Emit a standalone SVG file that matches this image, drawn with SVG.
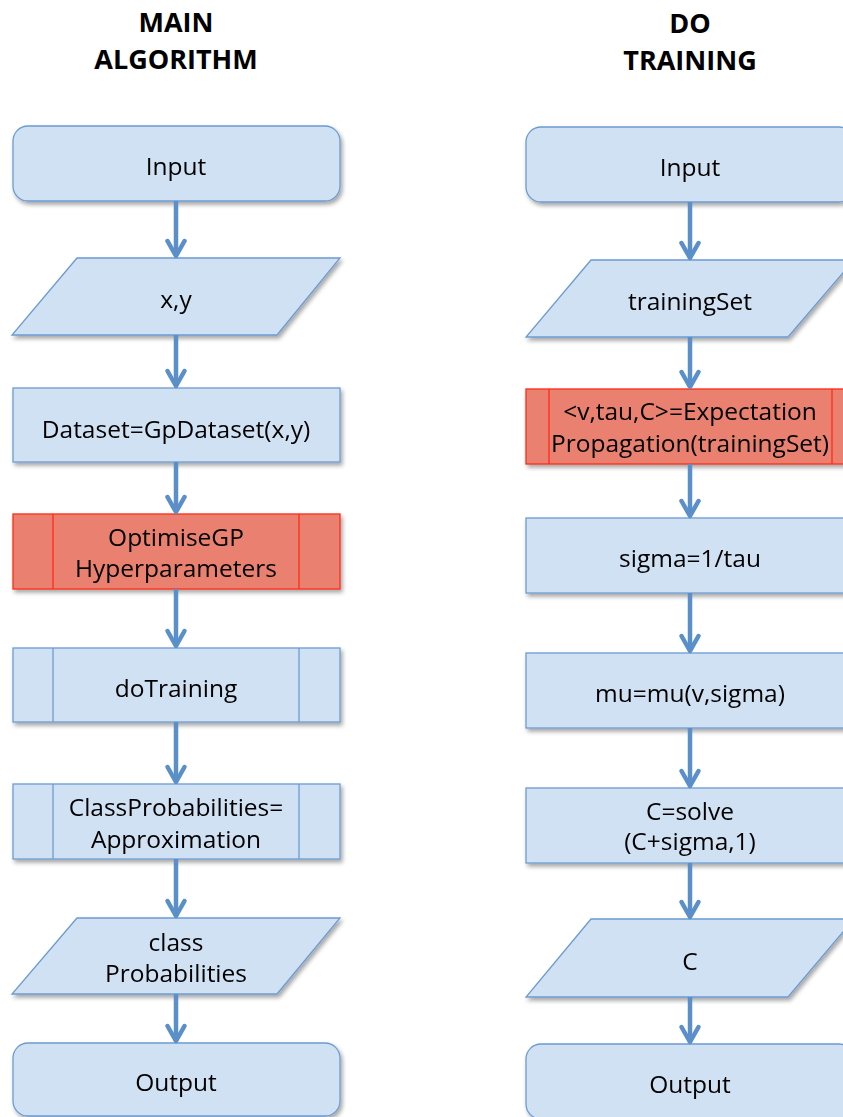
<svg xmlns="http://www.w3.org/2000/svg" width="843" height="1117" viewBox="0 0 843 1117">
  <defs>
    <filter id="shadow" x="-10%" y="-20%" width="125%" height="150%">
      <feDropShadow dx="2" dy="3" stdDeviation="2" flood-color="#000" flood-opacity="0.35"/>
    </filter>
    <marker id="chev" markerUnits="userSpaceOnUse" viewBox="-20 -12 24 24" refX="0" refY="0" markerWidth="24" markerHeight="24" orient="auto">
      <path d="M-15,-8.5 L0,0 L-15,8.5" fill="none" stroke="#5B8FC9" stroke-width="4.5" stroke-linejoin="round" stroke-linecap="round"/>
    </marker>
    <style>
      .box { fill: #D0E1F3; stroke: #6C9BD2; stroke-width: 1.3; }
      .hot { fill: #E9806F; stroke: #FF2A18; stroke-width: 1.3; }
      .bar { fill: none; stroke: #6C9BD2; stroke-width: 1.3; }
      .hotbar { fill: none; stroke: #FF2A18; stroke-width: 1.3; }
      .t { font-family: "Open Sans", "Liberation Sans", sans-serif; font-size: 24.5px; fill: #000; text-anchor: middle; }
      .title { font-family: "Open Sans", "Liberation Sans", sans-serif; font-size: 27px; font-weight: 700; fill: #000; text-anchor: middle; }
      .link { fill: none; stroke: #5B8FC9; stroke-width: 4.5; marker-end: url(#chev); }
    </style>
  </defs>
  <rect width="843" height="1117" fill="#fff"/>

  <!-- column headings -->
  <g id="title-main">
    <text class="title" x="176" y="32">MAIN</text>
    <text class="title" x="176" y="69">ALGORITHM</text>
  </g>
  <g id="title-training">
    <text class="title" x="690" y="33">DO</text>
    <text class="title" x="690" y="70">TRAINING</text>
  </g>

  <!-- main algorithm column -->
  <g id="main-input" filter="url(#shadow)">
    <rect class="box" x="13" y="126" width="327" height="75" rx="15"/>
    <text class="t" x="176" y="175">Input</text>
  </g>
  <g id="main-xy" filter="url(#shadow)">
    <polygon class="box" points="77,258 340,258 277,335 12,335"/>
    <text class="t" x="176" y="308">x,y</text>
  </g>
  <g id="main-dataset" filter="url(#shadow)">
    <rect class="box" x="13" y="388" width="327" height="74"/>
    <text class="t" x="176" y="438">Dataset=GpDataset(x,y)</text>
  </g>
  <g id="main-optimise" filter="url(#shadow)">
    <rect class="hot" x="13" y="514" width="327" height="75"/>
    <line class="hotbar" x1="53" y1="514" x2="53" y2="589"/>
    <line class="hotbar" x1="299" y1="514" x2="299" y2="589"/>
    <text class="t" x="176" y="546">OptimiseGP</text>
    <text class="t" x="176" y="577">Hyperparameters</text>
  </g>
  <g id="main-dotraining" filter="url(#shadow)">
    <rect class="box" x="13" y="648" width="327" height="74"/>
    <line class="bar" x1="53" y1="648" x2="53" y2="722"/>
    <line class="bar" x1="299" y1="648" x2="299" y2="722"/>
    <text class="t" x="176" y="697">doTraining</text>
  </g>
  <g id="main-classprob" filter="url(#shadow)">
    <rect class="box" x="13" y="784" width="327" height="75"/>
    <line class="bar" x1="53" y1="784" x2="53" y2="859"/>
    <line class="bar" x1="299" y1="784" x2="299" y2="859"/>
    <text class="t" x="176" y="816">ClassProbabilities=</text>
    <text class="t" x="176" y="848">Approximation</text>
  </g>
  <g id="main-classout" filter="url(#shadow)">
    <polygon class="box" points="77,918 340,918 277,994 12,994"/>
    <text class="t" x="176" y="951">class</text>
    <text class="t" x="176" y="982">Probabilities</text>
  </g>
  <g id="main-output" filter="url(#shadow)">
    <rect class="box" x="13" y="1043" width="327" height="73" rx="15"/>
    <text class="t" x="176" y="1091">Output</text>
  </g>

  <!-- training column -->
  <g id="train-input" filter="url(#shadow)">
    <rect class="box" x="526" y="127" width="328" height="75" rx="15"/>
    <text class="t" x="690" y="176">Input</text>
  </g>
  <g id="train-set" filter="url(#shadow)">
    <polygon class="box" points="591,260 854,260 788,337 526,337"/>
    <text class="t" x="690" y="310">trainingSet</text>
  </g>
  <g id="train-ep" filter="url(#shadow)">
    <rect class="hot" x="526" y="389" width="328" height="75"/>
    <line class="hotbar" x1="549" y1="389" x2="549" y2="464"/>
    <line class="hotbar" x1="832" y1="389" x2="832" y2="464"/>
    <text class="t" x="690" y="420">&lt;v,tau,C&gt;=Expectation</text>
    <text class="t" x="690" y="452">Propagation(trainingSet)</text>
  </g>
  <g id="train-sigma" filter="url(#shadow)">
    <rect class="box" x="526" y="518" width="328" height="75"/>
    <text class="t" x="690" y="567">sigma=1/tau</text>
  </g>
  <g id="train-mu" filter="url(#shadow)">
    <rect class="box" x="526" y="653" width="328" height="75"/>
    <text class="t" x="690" y="702">mu=mu(v,sigma)</text>
  </g>
  <g id="train-solve" filter="url(#shadow)">
    <rect class="box" x="526" y="788" width="328" height="75"/>
    <text class="t" x="690" y="820">C=solve</text>
    <text class="t" x="690" y="850">(C+sigma,1)</text>
  </g>
  <g id="train-c" filter="url(#shadow)">
    <polygon class="box" points="591,919 854,919 788,997 526,997"/>
    <text class="t" x="690" y="970">C</text>
  </g>
  <g id="train-output" filter="url(#shadow)">
    <rect class="box" x="526" y="1044" width="328" height="75" rx="15"/>
    <text class="t" x="690" y="1093">Output</text>
  </g>

  <!-- connectors -->
  <g id="connectors">
    <path class="link" d="M176,201 V256"/>
    <path class="link" d="M176,335 V386"/>
    <path class="link" d="M176,462 V512"/>
    <path class="link" d="M176,589 V646"/>
    <path class="link" d="M176,722 V782"/>
    <path class="link" d="M176,859 V916"/>
    <path class="link" d="M176,994 V1041"/>

    <path class="link" d="M690,202 V258"/>
    <path class="link" d="M690,337 V387"/>
    <path class="link" d="M690,464 V516"/>
    <path class="link" d="M690,593 V651"/>
    <path class="link" d="M690,728 V786"/>
    <path class="link" d="M690,863 V917"/>
    <path class="link" d="M690,997 V1042"/>
  </g>
</svg>
